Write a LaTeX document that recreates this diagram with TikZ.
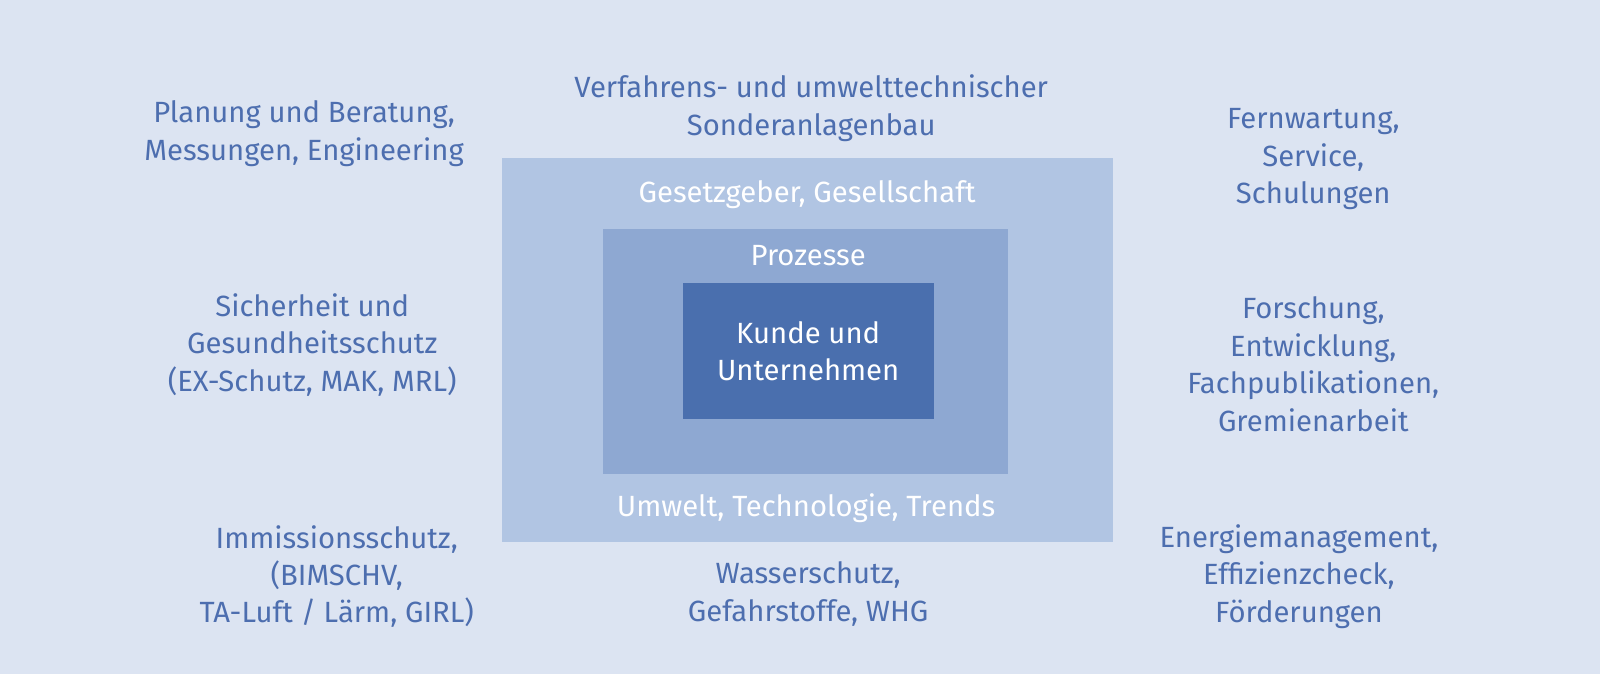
\documentclass[tikz,border=0pt]{standalone}
\usepackage{fontspec}
\setmainfont{Fira Sans}
\definecolor{bg}{HTML}{DCE4F2}
\definecolor{outerc}{HTML}{B1C5E3}
\definecolor{midc}{HTML}{8EA8D2}
\definecolor{innerc}{HTML}{4A6FAE}
\definecolor{txt}{HTML}{4D6EAF}
\begin{document}
\begin{tikzpicture}[x=0.75pt,y=-0.75pt,
  lbl/.style={align=center,inner sep=0pt,text=txt,font=\fontsize{21.5}{27.5}\selectfont},
  wlbl/.style={lbl,text=white},
  boxstyle/.style={draw=none,inner sep=0pt}]
\fill[bg] (0,0) rectangle (1568,660.5);
\useasboundingbox (0,0) rectangle (1568,660.5);
\node[boxstyle,fill=outerc,minimum width=599*0.75pt,minimum height=376*0.75pt] (outer) at (791.5,343) {};
\node[boxstyle,fill=midc,minimum width=397*0.75pt,minimum height=241*0.75pt] (mid) at (789.5,344.5) {};
\node[boxstyle,fill=innerc,minimum width=246*0.75pt,minimum height=134*0.75pt] (inner) at (792,344) {};
\node[wlbl] (kunde) at (792,344) {Kunde und\\Unternehmen};
\node[wlbl] (prozesse) at (792,250) {Prozesse};
\node[wlbl] (gesetz) at (791,191) {Gesetzgeber, Gesellschaft};
\node[wlbl] (umwelt) at (790,498) {Umwelt, Technologie, Trends};
\node[lbl] (verf) at (795,106) {Verfahrens- und umwelttechnischer\\Sonderanlagenbau};
\node[lbl] (plan) at (298,131) {Planung und Beratung,\\Messungen, Engineering};
\node[lbl] (fern) at (1287,156) {Fernwartung,\\Service,\\Schulungen};
\node[lbl] (sich) at (306,338) {Sicherheit und\\Gesundheitsschutz\\(EX-Schutz, MAK, MRL)};
\node[lbl] (forsch) at (1287,357) {Forschung,\\Entwicklung,\\Fachpublikationen,\\Gremienarbeit};
\node[lbl] (imm) at (330,565) {Immissionsschutz,\\(BIMSCHV,\\TA-Luft / Lärm, GIRL)};
\node[lbl] (wasser) at (792,582) {Wasserschutz,\\Gefahrstoffe, WHG};
\node[lbl] (energie) at (1273,565) {Energiemanagement,\\Effizienzcheck,\\Förderungen};
\end{tikzpicture}
\end{document}
